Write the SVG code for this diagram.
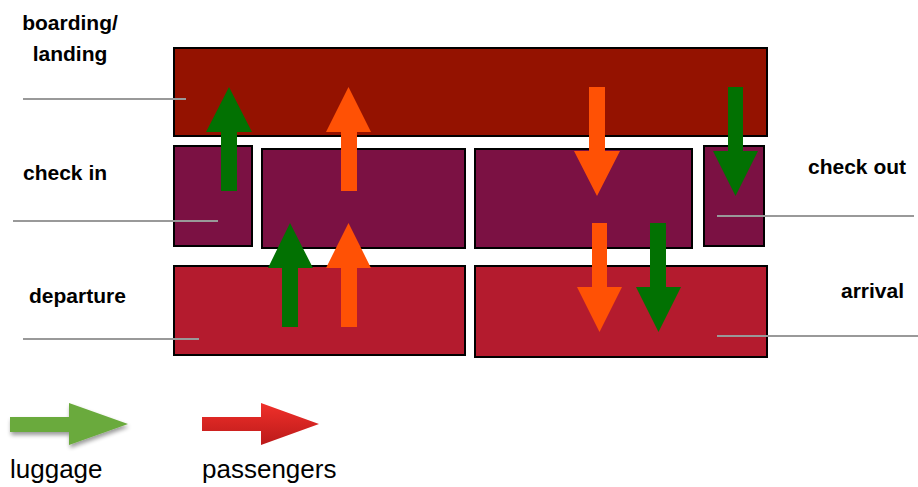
<svg xmlns="http://www.w3.org/2000/svg" width="918" height="487" viewBox="0 0 918 487">
<style>
.box{stroke:#000;stroke-width:2}
.top{fill:#941200}
.mid{fill:#7b1143}
.bot{fill:#b41b2e}
.g{fill:#027102}
.o{fill:#ff5105}
.lead{stroke:#999;stroke-width:2;fill:none}
.lbl{font-family:"Liberation Sans",Arial,sans-serif;font-weight:bold;font-size:21px;fill:#000}
.leg{font-family:"Liberation Sans",Arial,sans-serif;font-size:26px;fill:#000}
</style>
<defs>
<linearGradient id="redg" x1="0" y1="0" x2="0" y2="1">
<stop offset="0" stop-color="#f0302a"/>
<stop offset="1" stop-color="#bb1a1a"/>
</linearGradient>
<filter id="sh" x="-20%" y="-30%" width="150%" height="180%">
<feGaussianBlur in="SourceAlpha" stdDeviation="2"/>
<feOffset dx="1" dy="3"/>
<feComponentTransfer><feFuncA type="linear" slope="0.4"/></feComponentTransfer>
<feMerge><feMergeNode/><feMergeNode in="SourceGraphic"/></feMerge>
</filter>
</defs>
<g id="boarding">
<rect class="box top" x="174" y="48" width="593" height="88"/>
</g>
<g id="checkin1"><rect class="box mid" x="174" y="146" width="78" height="100"/></g>
<g id="checkin2"><rect class="box mid" x="262" y="149" width="203" height="99"/></g>
<g id="checkout1"><rect class="box mid" x="475" y="149" width="217" height="99"/></g>
<g id="checkout2"><rect class="box mid" x="704" y="146" width="60" height="100"/></g>
<g id="departure"><rect class="box bot" x="174" y="266" width="291" height="89"/></g>
<g id="arrival"><rect class="box bot" x="475" y="266" width="292" height="91"/></g>
<g id="connectors">
<line class="lead" x1="23" y1="99" x2="186" y2="99"/>
<line class="lead" x1="13" y1="221" x2="218" y2="221"/>
<line class="lead" x1="717" y1="216" x2="914" y2="216"/>
<line class="lead" x1="23" y1="339" x2="199" y2="339"/>
<line class="lead" x1="717" y1="336" x2="918" y2="336"/>
<polygon class="g" points="221,191 237,191 237,132 252,132 229,87 206,132 221,132"/>
<polygon class="o" points="341,191 357,191 357,132 371,132 348.5,87 326,132 341,132"/>
<polygon class="g" points="282,327 298,327 298,268 313,268 290,223 268,268 282,268"/>
<polygon class="o" points="341,327 357,327 357,268 371,268 348.5,223 326,268 341,268"/>
<polygon class="o" points="589,87 605,87 605,151 620,151 597,196 574,151 589,151"/>
<polygon class="g" points="728,87 743,87 743,151 758,151 735.5,196 713,151 728,151"/>
<polygon class="o" points="592,223 607,223 607,287 622,287 599.5,332 577,287 592,287"/>
<polygon class="g" points="650,223 666,223 666,287 681,287 658.5,332 636,287 650,287"/>
</g>
<g id="labels">
<text class="lbl" x="70" y="30" text-anchor="middle">boarding/</text>
<text class="lbl" x="70" y="61" text-anchor="middle">landing</text>
<text class="lbl" x="23" y="180">check in</text>
<text class="lbl" x="808" y="174">check out</text>
<text class="lbl" x="29" y="303">departure</text>
<text class="lbl" x="841" y="298">arrival</text>
</g>
<g id="legend">
<polygon fill="#6aaa3c" filter="url(#sh)" points="10,417 69,417 69,403 128,424 69,445 69,432 10,432"/>
<polygon fill="url(#redg)" points="202,417 261,417 261,403 319,424 261,445 261,431 202,431"/>
<text class="leg" x="10" y="478">luggage</text>
<text class="leg" x="202" y="478">passengers</text>
</g>
</svg>
